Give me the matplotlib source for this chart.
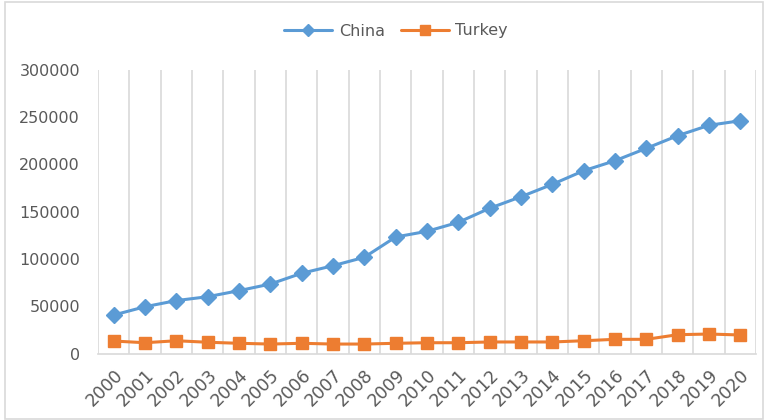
import matplotlib
matplotlib.use("Agg")
import matplotlib.pyplot as plt
from matplotlib.patches import Rectangle
import numpy as np

years = [str(y) for y in range(2000, 2021)]
china = [40700, 49500, 56000, 60100, 66500, 73500, 84900, 92900, 101800, 123300,
         129300, 138800, 153700, 165900, 179000, 193400, 204000, 217100, 230500,
         241500, 246300]
turkey = [13200, 11400, 13500, 11900, 10800, 10000, 10800, 10000, 10000, 10800,
          11400, 11400, 12200, 12200, 12200, 13500, 15000, 15000, 19900, 20600,
          19600]
y_ticks = [0, 50000, 100000, 150000, 200000, 250000, 300000]

text_color = "#595959"
grid_color = "#d9d9d9"
plt.rcParams["font.family"] = ["DejaVu Sans"]

fig = plt.figure(figsize=(7.69, 4.20), dpi=100)
ax = fig.add_axes([98 / 769, 1 - 353.5 / 420, (756 - 98) / 769, (353.5 - 70) / 420])

x = np.arange(len(years))
ax.plot(x, china, color="#5B9BD5", lw=2.2, marker="D", ms=8, label="China",
        solid_capstyle="round")
ax.plot(x, turkey, color="#ED7D31", lw=2.2, marker="s", ms=9, label="Turkey",
        solid_capstyle="round")

ax.set_xlim(-0.5, len(years) - 0.5)
ax.set_ylim(0, 300000)

# vertical separators between categories
for b in np.arange(-0.5, len(years), 1.0):
    ax.axvline(b, color=grid_color, lw=1.2, zorder=0)

for s in ["top", "right", "left"]:
    ax.spines[s].set_visible(False)
ax.spines["bottom"].set_color(grid_color)
ax.spines["bottom"].set_linewidth(1.2)

ax.set_yticks(y_ticks)
ax.set_yticklabels([str(v) for v in y_ticks])
ax.tick_params(axis="y", length=0, pad=13, labelsize=11.5, labelcolor=text_color)

ax.set_xticks(x)
ax.set_xticklabels(years, rotation=45, ha="right", va="top",
                   rotation_mode="anchor")
ax.tick_params(axis="x", length=0, pad=9, labelsize=12.5, labelcolor=text_color)

leg = fig.legend(loc="center", bbox_to_anchor=(396 / 769, 1 - 31 / 420), ncol=2,
                 frameon=False, fontsize=11.5, handlelength=3.0,
                 columnspacing=1.0, handletextpad=0.4, markerscale=0.8)
for t in leg.get_texts():
    t.set_color(text_color)

fig.patches.append(Rectangle((5 / 769, 1 / 420), 758 / 769, 417 / 420,
                             transform=fig.transFigure, fill=False,
                             edgecolor=grid_color, lw=1.2))

fig.savefig("out.png", dpi=100, facecolor="white")
